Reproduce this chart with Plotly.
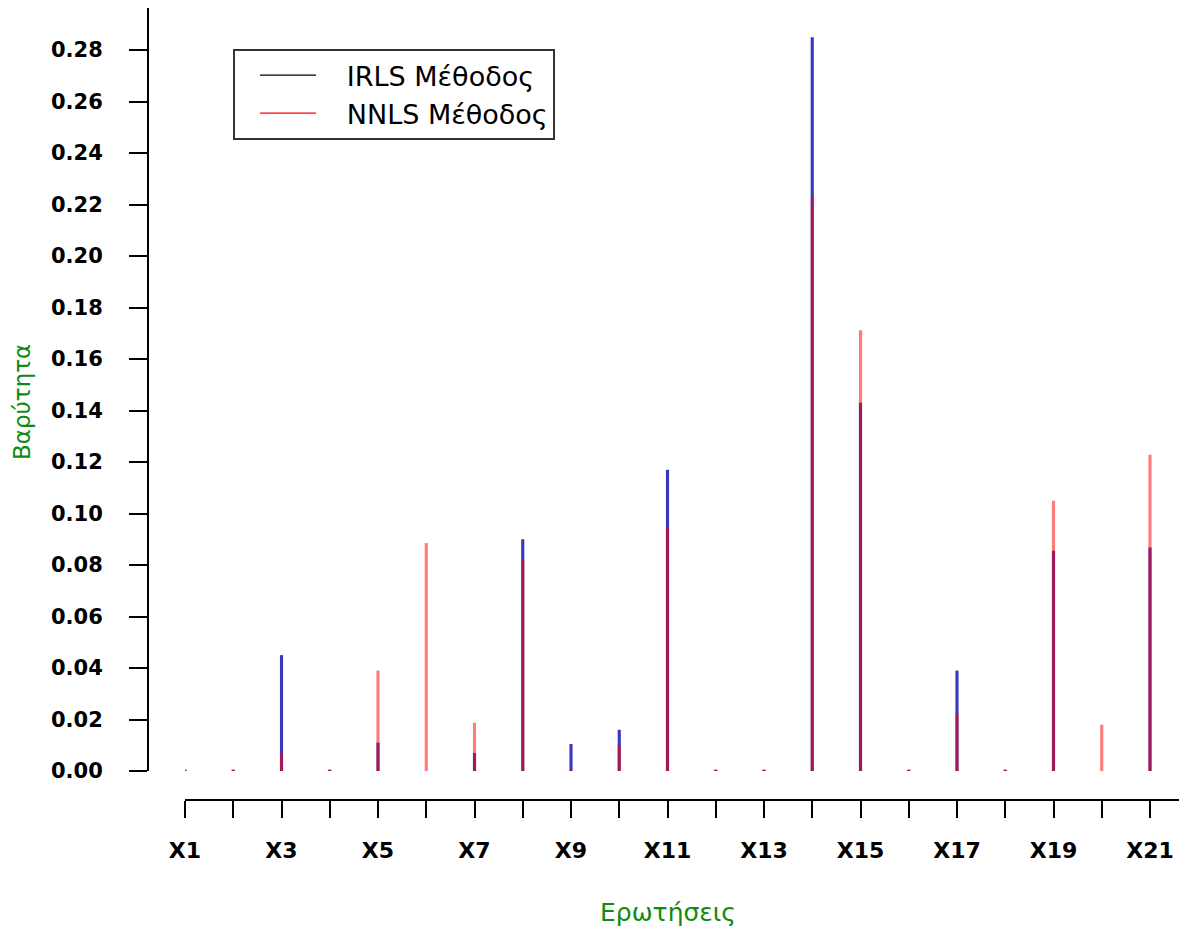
import plotly.graph_objects as go

categories = [f"X{i}" for i in range(1, 22)]
positions = list(range(1, 22))
irls = [0.0005, 0.0005, 0.045, 0.0005, 0.011, 0.0, 0.007, 0.090, 0.0105, 0.016, 0.117,
        0.0005, 0.0005, 0.285, 0.143, 0.0005, 0.039, 0.0005, 0.0855, 0.0, 0.0868]
nnls = [0.0005, 0.0005, 0.007, 0.0005, 0.039, 0.0885, 0.0187, 0.0823, 0.0005, 0.010, 0.0943,
        0.0005, 0.0005, 0.2225, 0.1712, 0.0005, 0.0225, 0.0005, 0.1050, 0.018, 0.1228]
tick_text = [c if i % 2 == 0 else "" for i, c in enumerate(categories)]
y_ticks = [round(0.02 * i, 2) for i in range(15)]
series_names = ["IRLS Μέθοδος", "NNLS Μέθοδος"]

# page has an 8px body margin; work in reference pixels and shift
OFF = 8
W, H = 1187 - OFF, 928 - OFF
yaxis_px, xaxis_px = 148 - OFF, 800 - OFF
ml, mr, mt, mb = yaxis_px, 0, 0, H - xaxis_px
pw, ph = W - ml - mr, H - mt - mb
x1_px, x21_px = 185 - OFF, 1150 - OFF
unit = (x21_px - x1_px) / 20.0
x_range = [1, 1 + (W - x1_px) / unit]
y0_px = 771 - OFF
y_scale = (771 - 50) / 0.28
y_range = [0, (y0_px - mt) / y_scale]

def px_x(p):
    return (p - OFF - ml) / pw

def px_y(p):
    return (H - mb - (p - OFF)) / ph

font = "DejaVu Sans, Liberation Sans, Arial, sans-serif"
pad = "\u00a0\u00a0\u00a0"
fig = go.Figure()
fig.add_trace(go.Bar(x=positions, y=irls, width=0.065, marker=dict(color="rgba(0,0,170,0.78)", line=dict(width=0)),
                     showlegend=False))
fig.add_trace(go.Bar(x=positions, y=nnls, width=0.065, marker=dict(color="rgba(255,0,0,0.52)", line=dict(width=0)),
                     showlegend=False))
fig.add_trace(go.Scatter(x=[None], y=[None], mode="lines", name=pad + series_names[0],
                         line=dict(color="black", width=1.3)))
fig.add_trace(go.Scatter(x=[None], y=[None], mode="lines", name=pad + series_names[1],
                         line=dict(color="red", width=1.3)))

fig.update_layout(
    width=W, height=H, margin=dict(l=ml, r=mr, t=mt, b=mb),
    plot_bgcolor="white", paper_bgcolor="white", barmode="overlay",
    font=dict(family=font, color="black"),
    xaxis=dict(domain=[(x1_px - ml) / pw, 1], range=x_range, anchor="free", position=0,
               showgrid=False, zeroline=False, showline=True, linecolor="black", linewidth=2,
               tickmode="array", tickvals=positions, ticktext=tick_text,
               ticks="outside", ticklen=17, tickwidth=2, tickcolor="black",
               tickfont=dict(size=22, family=font, color="black", weight="bold"), ticklabelstandoff=14),
    yaxis=dict(domain=[(xaxis_px - y0_px) / ph, 1], range=y_range, anchor="free", position=0,
               showgrid=False, zeroline=False, showline=True, linecolor="black", linewidth=2,
               tickmode="array", tickvals=y_ticks, ticktext=[f"{v:.2f}" for v in y_ticks],
               ticks="outside", ticklen=18, tickwidth=2, tickcolor="black",
               tickfont=dict(size=21, family=font, color="black", weight="bold"), ticklabelstandoff=22),
    legend=dict(x=px_x(233), y=px_y(49), xanchor="left", yanchor="top",
                bordercolor="#333333", borderwidth=2, bgcolor="white", indentation=20,
                font=dict(size=27, family=font, color="black"), itemwidth=56, tracegroupgap=0),
    annotations=[
        dict(text="Ερωτήσεις", xref="paper", yref="paper", x=px_x(668), y=px_y(912),
             xanchor="center", yanchor="middle", showarrow=False,
             font=dict(size=25, family=font, color="#108a10")),
        dict(text="Βαρύτητα", xref="paper", yref="paper", x=px_x(22), y=px_y(402),
             xanchor="center", yanchor="middle", showarrow=False, textangle=-90,
             font=dict(size=23, family=font, color="#108a10")),
    ],
)

fig.write_html("out.html")
